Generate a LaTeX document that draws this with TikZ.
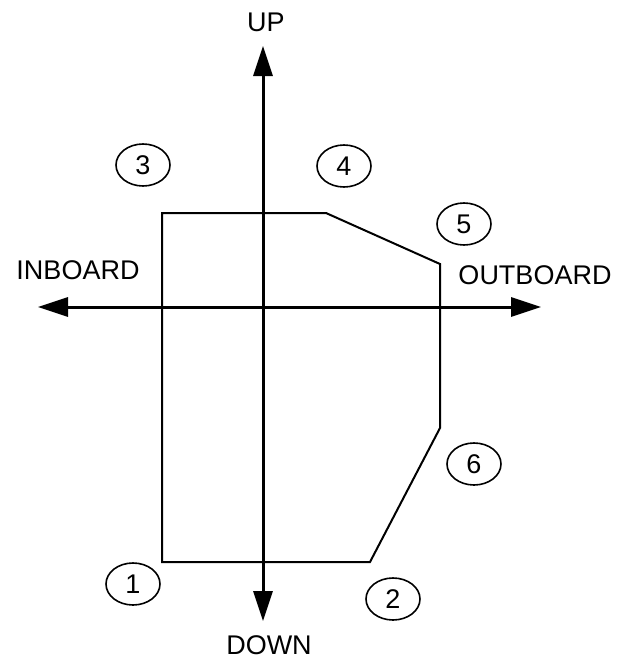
\documentclass[tikz,border=0pt]{standalone}
\usepackage{fontspec}
\setmainfont{Liberation Sans}
\usetikzlibrary{arrows.meta,shapes.geometric}
\begin{document}
\begin{tikzpicture}[x=1pt,y=-1pt,
  lbl/.style={font=\fontsize{27}{32}\selectfont, inner sep=0pt},
  num/.style={draw, line width=1.6pt, ellipse, minimum width=54pt, minimum height=42pt, inner sep=0pt, font=\fontsize{27}{32}\selectfont},
  axis/.style={line width=3pt, -{Triangle[length=30pt,width=19pt]}},
  outline/.style={line width=2pt, line join=miter}]
\useasboundingbox (0,0) rectangle (627,662);
% axes
\coordinate (o) at (263,307);
\coordinate (upE) at (263,46);
\coordinate (downE) at (263,621);
\coordinate (inE) at (38,307);
\coordinate (outE) at (541,307);
% outline corners
\coordinate (p1) at (162,562);
\coordinate (p2) at (370,562);
\coordinate (p3) at (440,428);
\coordinate (p4) at (440,264);
\coordinate (p5) at (326,213);
\coordinate (p6) at (162,213);
\draw[outline] (p1) -- (p2) -- (p3) -- (p4) -- (p5) -- (p6) -- cycle;
\draw[axis] (o) -- (upE);
\draw[axis] (o) -- (downE);
\draw[axis] (o) -- (inE);
\draw[axis] (o) -- (outE);
% labels
\node[lbl] (up) at (266,22) {UP};
\node[lbl] (down) at (269,645) {DOWN};
\node[lbl] (inb) at (78,270) {INBOARD};
\node[lbl] (outb) at (535,275) {OUTBOARD};
% numbered ellipses
\node[num] (n3) at (143,165) {3};
\node[num] (n4) at (344,166) {4};
\node[num] (n5) at (464,224) {5};
\node[num] (n6) at (474,464) {6};
\node[num] (n1) at (133,584) {1};
\node[num] (n2) at (393,599) {2};
\end{tikzpicture}
\end{document}
